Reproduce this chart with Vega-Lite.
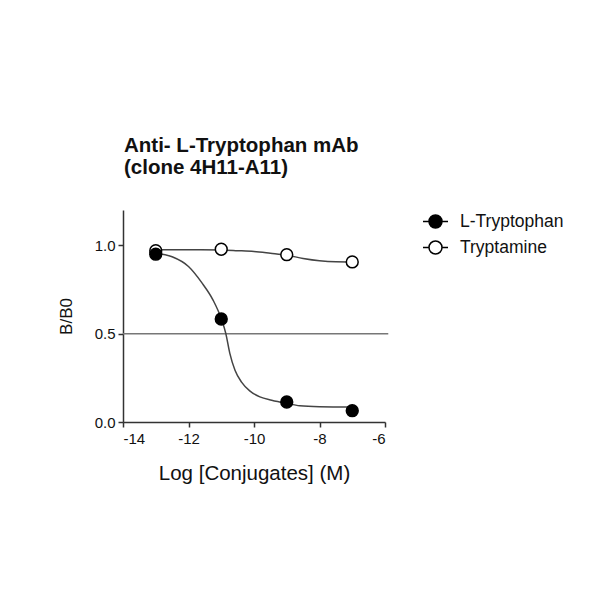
{
  "$schema": "https://vega.github.io/schema/vega-lite/v6.json",
  "autosize": {"type": "none"},
  "width": 262,
  "height": 212,
  "padding": {"left": 123, "top": 210, "right": 215, "bottom": 178},
  "background": "white",
  "config": {
    "font": "Liberation Sans",
    "view": {"stroke": null},
    "axis": {"grid": false, "domainColor": "#333", "tickColor": "#333", "labelColor": "#111", "titleColor": "#111", "labelFont": "Liberation Sans", "titleFont": "Liberation Sans", "labelFontSize": 15, "titleFontSize": 20.5, "titleFontWeight": "normal", "domainWidth": 1.5, "tickWidth": 1.5, "tickSize": 5}
  },
  "title": {
    "text": ["Anti- L-Tryptophan mAb", "(clone 4H11-A11)"],
    "anchor": "start",
    "frame": "group",
    "fontSize": 20.5,
    "fontWeight": "bold",
    "font": "Liberation Sans",
    "color": "#111",
    "lineHeight": 22,
    "offset": 30,
    "dx": 1
  },
  "datasets": {
    "pts": [
      {"x": -13, "y": 0.97, "compound": "Tryptamine"},
      {"x": -11, "y": 0.978, "compound": "Tryptamine"},
      {"x": -9, "y": 0.947, "compound": "Tryptamine"},
      {"x": -7, "y": 0.906, "compound": "Tryptamine"},
      {"x": -13, "y": 0.95, "compound": "L-Tryptophan"},
      {"x": -11, "y": 0.583, "compound": "L-Tryptophan"},
      {"x": -9, "y": 0.113, "compound": "L-Tryptophan"},
      {"x": -7, "y": 0.064, "compound": "L-Tryptophan"}
    ],
    "curves": [
      {"x": -13, "y": 0.955, "compound": "L-Tryptophan"},
      {"x": -12.5, "y": 0.935, "compound": "L-Tryptophan"},
      {"x": -12, "y": 0.88, "compound": "L-Tryptophan"},
      {"x": -11.6, "y": 0.79, "compound": "L-Tryptophan"},
      {"x": -11.25, "y": 0.69, "compound": "L-Tryptophan"},
      {"x": -11, "y": 0.585, "compound": "L-Tryptophan"},
      {"x": -10.86, "y": 0.5, "compound": "L-Tryptophan"},
      {"x": -10.74, "y": 0.39, "compound": "L-Tryptophan"},
      {"x": -10.58, "y": 0.293, "compound": "L-Tryptophan"},
      {"x": -10.38, "y": 0.226, "compound": "L-Tryptophan"},
      {"x": -10.13, "y": 0.176, "compound": "L-Tryptophan"},
      {"x": -9.82, "y": 0.142, "compound": "L-Tryptophan"},
      {"x": -9.46, "y": 0.123, "compound": "L-Tryptophan"},
      {"x": -9, "y": 0.105, "compound": "L-Tryptophan"},
      {"x": -8.6, "y": 0.092, "compound": "L-Tryptophan"},
      {"x": -8, "y": 0.087, "compound": "L-Tryptophan"},
      {"x": -7, "y": 0.085, "compound": "L-Tryptophan"},
      {"x": -13, "y": 0.975, "compound": "Tryptamine"},
      {"x": -12, "y": 0.975, "compound": "Tryptamine"},
      {"x": -11, "y": 0.974, "compound": "Tryptamine"},
      {"x": -10.5, "y": 0.97, "compound": "Tryptamine"},
      {"x": -10, "y": 0.965, "compound": "Tryptamine"},
      {"x": -9.5, "y": 0.955, "compound": "Tryptamine"},
      {"x": -9, "y": 0.944, "compound": "Tryptamine"},
      {"x": -8.5, "y": 0.926, "compound": "Tryptamine"},
      {"x": -8, "y": 0.913, "compound": "Tryptamine"},
      {"x": -7.5, "y": 0.907, "compound": "Tryptamine"},
      {"x": -7, "y": 0.906, "compound": "Tryptamine"}
    ],
    "ref": [
      {"x": -14, "y": 0.5},
      {"x": -5.9, "y": 0.5}
    ]
  },
  "encoding": {
    "x": {"field": "x", "type": "quantitative", "scale": {"domain": [-14, -6], "nice": false, "zero": false, "clamp": false},
      "axis": {"values": [-14, -12, -10, -8, -6], "labelExpr": "replace(datum.label, '\u2212', '-')", "title": "Log [Conjugates] (M)", "titlePadding": 17, "labelPadding": 4}},
    "y": {"field": "y", "type": "quantitative", "scale": {"domain": [0, 1.2], "nice": false, "zero": true},
      "axis": {"values": [0, 0.5, 1.0], "format": ".1f", "title": "B/B0", "titleFontSize": 17, "titlePadding": 19, "labelPadding": 3}}
  },
  "layer": [
    {
      "data": {"name": "ref"},
      "mark": {"type": "line", "color": "#777", "strokeWidth": 1.5, "clip": false},
      "encoding": {}
    },
    {
      "data": {"name": "curves"},
      "mark": {"type": "line", "color": "#444", "strokeWidth": 1.5, "interpolate": "monotone"},
      "encoding": {"detail": {"field": "compound"}}
    },
    {
      "data": {"name": "pts"},
      "mark": {"type": "point", "filled": false, "stroke": "black", "strokeWidth": 1.5, "size": 140, "opacity": 1, "shape": "circle"},
      "encoding": {
        "order": {"field": "compound", "sort": "descending"},
        "fill": {
          "field": "compound",
          "type": "nominal",
          "scale": {"domain": ["L-Tryptophan", "Tryptamine"], "range": ["black", "white"]},
          "legend": {
            "title": null,
            "orient": "none",
            "legendX": 299,
            "legendY": -2,
            "padding": 0,
            "symbolType": "M-1,0H-0.52M0.52,0H1M0.52,0A0.52,0.52,0,1,1,-0.52,0A0.52,0.52,0,1,1,0.52,0Z",
            "symbolSize": 625,
            "symbolStrokeColor": "black",
            "symbolStrokeWidth": 1.5,
            "symbolOpacity": 1,
            "labelFontSize": 17.5,
            "labelFont": "Liberation Sans",
            "labelColor": "#111",
            "labelOffset": 11,
            "rowPadding": 3
          }
        }
      }
    }
  ]
}
